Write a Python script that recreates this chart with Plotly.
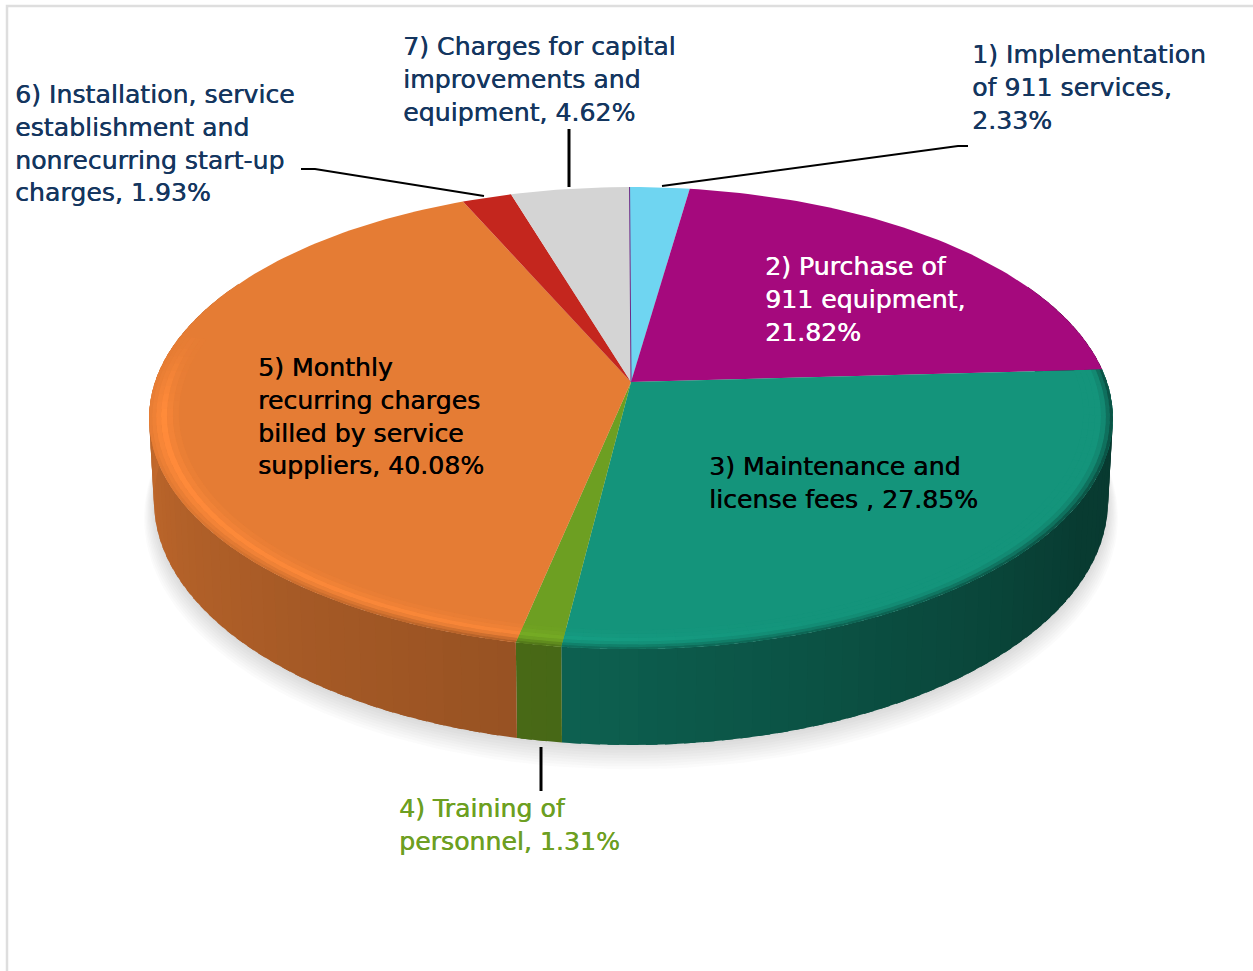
import numpy as np
import plotly.graph_objects as go

# ---- data ----
categories = [
    "1) Implementation<br>of 911 services,<br>",
    "2) Purchase of<br>911 equipment,<br>",
    "3) Maintenance and<br>license fees , ",
    "4) Training of<br>personnel, ",
    "5) Monthly<br>recurring charges<br>billed by service<br>suppliers, ",
    "6) Installation, service<br>establishment and<br>nonrecurring start-up<br>charges, ",
    "7) Charges for capital<br>improvements and<br>equipment, ",
]
values = [2.33, 21.82, 27.85, 1.31, 40.08, 1.93, 4.62]
colors = ["#6FD5F1", "#A5097D", "#14947B", "#6D9F22", "#E57C34", "#C4261E", "#D4D4D4"]
label_colors = ["#14365F", "#FFFFFF", "#000000", "#6D9F22", "#000000", "#14365F", "#14365F"]
label_left = [971, 764, 708, 398, 257, 14, 402]
label_top = [39, 251, 451, 793, 352, 79, 31]

# ---- projection of the tilted disc ----
CX, CY = 631, 382
K, B, A, H = 0.156, 225.4, 476.0, 81.0
ROT = np.radians(-0.2)
FONT = "DejaVu Sans"
FSIZE = 25.2


def project(theta, r=1.0, drop=0.0, xscale=1.0):
    x, d = r * np.sin(theta + ROT), r * np.cos(theta + ROT)
    w = 1 + K * d
    return CX + xscale * A * x / w, CY - B * d / w + drop / w


def rgb(c):
    return np.array([int(c[i:i + 2], 16) for i in (1, 3, 5)], float)


def css(v):
    v = np.clip(v, 0, 255).round().astype(int)
    return f"rgb({v[0]},{v[1]},{v[2]})"


def side_factor(theta):
    return np.interp(np.degrees(theta), [60, 120, 187, 270, 300], [0.36, 0.40, 0.65, 0.85, 0.85])


def highlight(theta):
    return np.interp(np.degrees(theta), [87, 160, 195, 262, 282], [0.0, 0.0, 0.08, 0.12, 0.0])


def rim_mix(theta):
    return np.interp(np.degrees(theta), [87, 100, 190, 255, 282], [1.0, 1.0, 1.0, 0.1, 0.0])


def poly(fig, xs, ys, color, opacity=1.0):
    fig.add_trace(go.Scatter(
        x=xs, y=ys, mode="lines", fill="toself", fillcolor=color, opacity=opacity,
        line=dict(width=0), hoverinfo="skip", showlegend=False))


fig = go.Figure()
edges = 2 * np.pi * np.concatenate([[0], np.cumsum(values)]) / np.sum(values)
circle = np.linspace(0, 2 * np.pi, 240)

# soft shadow under the disc
for i in range(9):
    grow = 1 + 0.0025 * i
    sx, sy = project(circle, grow, H + 2 + 1.6 * i, 0.99)
    poly(fig, sx, sy, "rgb(120,120,120)", 0.028)

# side wall, split into narrow strips for the shading
STEP = np.radians(2)
strips = []
for i, col in enumerate(colors):
    a0, a1 = edges[i], edges[i + 1]
    n = max(1, int(np.ceil((a1 - a0) / STEP)))
    cuts = np.linspace(a0, a1, n + 1)
    for t0, t1 in zip(cuts[:-1], cuts[1:]):
        if np.cos((t0 + t1) / 2) > 0.45:
            continue
        strips.append((i, t0, t1, (t0 + t1) / 2, t1 >= a1 - 1e-9))
for i, t0, t1, tm, last in strips:
    # every strip reaches a little under the next one, so no seam shows
    th = np.linspace(t0, t1 + (0 if last else 0.6 * STEP), 5)
    tx, ty = project(th)
    bx, by = project(th[::-1], 1.0, H, 0.99)
    poly(fig, np.r_[tx, bx], np.r_[ty, by], css(rgb(colors[i]) * side_factor(tm)))

# top face
for i, col in enumerate(colors):
    th = np.linspace(edges[i], edges[i + 1], max(3, int((edges[i + 1] - edges[i]) / 0.02)))
    tx, ty = project(th)
    poly(fig, np.r_[CX, tx, CX], np.r_[CY, ty, CY], col)

# bevel on the rim: bright inner line, falling to the wall colour at the edge
PROFILE = [(0.940, 0.952, 0.2, 0.0), (0.952, 0.964, 0.5, 0.0), (0.964, 0.976, 1.0, 0.0),
           (0.976, 0.986, 0.7, 0.12), (0.986, 0.994, 0.4, 0.4), (0.994, 1.0, 0.2, 0.7)]
for i, t0, t1, tm, last in strips:
    if not 87 < np.degrees(tm) < 282:
        continue
    base = rgb(colors[i])
    th = np.linspace(t0, t1 + (0 if last else 0.6 * STEP), 5)
    hl, mix = highlight(tm), rim_mix(tm)
    wall = base * side_factor(tm)
    for r0, r1, lift, dark in PROFILE:
        c = base * (1 + hl * lift)
        c = c * (1 - dark * mix) + wall * dark * mix
        ox, oy = project(th, r1)
        ix, iy = project(th[::-1], r0)
        poly(fig, np.r_[ox, ix], np.r_[oy, iy], css(c))

# hairline at twelve o'clock
lx, ly = project(np.array([0.0, 0.0]), np.array([0.0, 1.0]))
fig.add_trace(go.Scatter(x=lx, y=ly, mode="lines", line=dict(color="#6B2A86", width=1),
                         hoverinfo="skip", showlegend=False))

annotations = [
    dict(x=x, y=y, xref="x", yref="y", xanchor="left", yanchor="top", align="left",
         text=f"{cat}{val:.2f}%", showarrow=False, borderpad=0,
         font=dict(family=FONT, size=FSIZE, color=c, shadow=f"0.45px 0 0 {c}"))
    for cat, val, c, x, y in zip(categories, values, label_colors, label_left, label_top)
]


def seg(pts, width):
    path = "M " + " L ".join(f"{x} {y}" for x, y in pts)
    return dict(type="path", path=path, xref="x", yref="y",
                line=dict(color="#000000", width=width))


shapes = [
    seg([(662, 186), (958, 146), (968, 146)], 2),
    seg([(569, 129), (569, 187)], 3),
    seg([(301, 169), (315, 169), (484, 196)], 2),
    seg([(541, 747), (541, 791)], 3),
    seg([(7, 971), (7, 6), (1253, 6)], 2.5),
]
shapes[-1]["line"]["color"] = "#DEDEDE"

fig.update_layout(
    width=1253, height=971, margin=dict(l=0, r=0, t=0, b=0),
    paper_bgcolor="#FFFFFF", plot_bgcolor="#FFFFFF", showlegend=False,
    xaxis=dict(range=[0, 1253], visible=False, fixedrange=True),
    yaxis=dict(range=[971, 0], visible=False, fixedrange=True),
    annotations=annotations, shapes=shapes,
)
fig.write_html("out.html", config={"displayModeBar": False},
               post_script="document.body.style.margin='0';document.documentElement.style.overflow='hidden';")
